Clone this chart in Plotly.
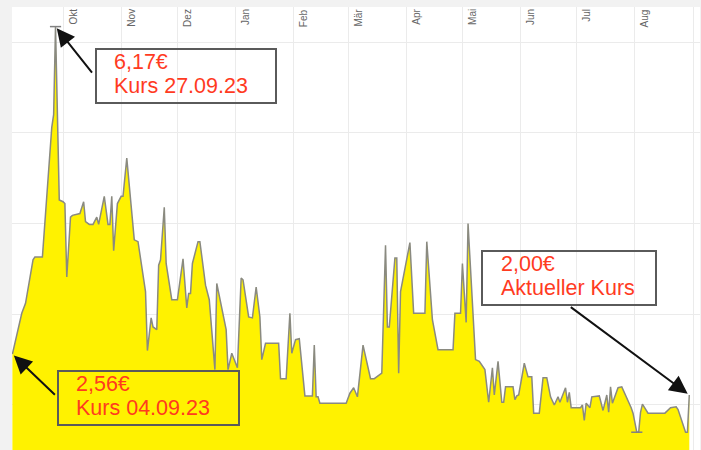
import plotly.graph_objects as go
import numpy as np

# ---- data ----
dates = [
    "2023-09-04", "2023-09-09", "2023-09-11", "2023-09-15", "2023-09-16", "2023-09-20",
    "2023-09-25", "2023-09-26", "2023-09-27", "2023-09-29", "2023-10-01", "2023-10-02",
    "2023-10-03", "2023-10-05", "2023-10-06", "2023-10-10", "2023-10-12", "2023-10-13",
    "2023-10-15", "2023-10-17", "2023-10-19", "2023-10-20", "2023-10-23", "2023-10-25",
    "2023-10-26", "2023-10-27", "2023-10-28", "2023-10-30", "2023-11-01", "2023-11-02",
    "2023-11-04", "2023-11-06", "2023-11-08", "2023-11-10", "2023-11-14", "2023-11-15",
    "2023-11-17", "2023-11-18", "2023-11-20", "2023-11-21", "2023-11-22", "2023-11-24",
    "2023-11-25", "2023-11-28", "2023-12-01", "2023-12-04", "2023-12-06", "2023-12-07",
    "2023-12-08", "2023-12-09", "2023-12-12", "2023-12-13", "2023-12-16", "2023-12-18",
    "2023-12-21", "2023-12-22", "2023-12-27", "2023-12-28", "2023-12-30", "2024-01-02",
    "2024-01-04", "2024-01-05", "2024-01-08", "2024-01-10", "2024-01-12", "2024-01-14",
    "2024-01-15", "2024-01-17", "2024-01-24", "2024-01-25", "2024-01-28", "2024-01-30",
    "2024-01-31", "2024-02-02", "2024-02-04", "2024-02-07", "2024-02-11", "2024-02-12",
    "2024-02-13", "2024-02-14", "2024-02-15", "2024-02-29", "2024-03-02", "2024-03-04",
    "2024-03-06", "2024-03-09", "2024-03-13", "2024-03-15", "2024-03-19", "2024-03-21",
    "2024-03-22", "2024-03-23", "2024-03-26", "2024-03-27", "2024-03-28", "2024-03-29",
    "2024-04-03", "2024-04-05", "2024-04-11", "2024-04-12", "2024-04-15", "2024-04-18",
    "2024-04-26", "2024-04-27", "2024-04-30", "2024-05-01", "2024-05-03", "2024-05-04",
    "2024-05-08", "2024-05-10", "2024-05-13", "2024-05-15", "2024-05-17", "2024-05-18",
    "2024-05-20", "2024-05-22", "2024-05-23", "2024-05-24", "2024-05-28", "2024-05-29",
    "2024-05-30", "2024-05-31", "2024-06-03", "2024-06-05", "2024-06-07", "2024-06-08",
    "2024-06-11", "2024-06-13", "2024-06-15", "2024-06-17", "2024-06-19", "2024-06-21",
    "2024-06-22", "2024-06-25", "2024-06-26", "2024-06-27", "2024-06-28", "2024-07-03",
    "2024-07-04", "2024-07-05", "2024-07-06", "2024-07-08", "2024-07-09", "2024-07-13",
    "2024-07-15", "2024-07-17", "2024-07-18", "2024-07-19", "2024-07-20", "2024-07-23",
    "2024-07-25", "2024-07-30", "2024-07-31", "2024-08-02", "2024-08-03", "2024-08-04",
    "2024-08-05", "2024-08-08", "2024-08-17", "2024-08-20", "2024-08-23", "2024-08-24",
    "2024-08-26", "2024-08-28", "2024-08-29", "2024-08-30",
]
prices = [
    2.56, 3.01, 3.12, 3.60, 3.63, 3.63,
    5.06, 5.20, 6.17, 4.26, 4.24, 4.22,
    3.41, 4.07, 4.09, 4.11, 4.24, 4.02,
    3.99, 3.99, 4.07, 3.99, 4.30, 3.99,
    3.99, 4.30, 3.70, 4.22, 4.30, 4.30,
    4.72, 4.29, 3.82, 3.80, 3.25, 2.60,
    2.96, 2.86, 2.83, 3.54, 3.60, 4.18,
    3.56, 3.16, 3.16, 3.61, 3.07, 3.23,
    3.23, 3.56, 3.80, 3.80, 3.32, 3.16,
    2.39, 3.34, 2.83, 2.39, 2.57, 2.41,
    3.40, 3.38, 2.97, 2.96, 3.30, 2.97,
    2.50, 2.68, 2.68, 2.29, 2.29, 3.01,
    2.57, 2.72, 2.73, 2.10, 2.10, 2.66,
    2.09, 2.09, 2.02, 2.02, 2.13, 2.19,
    2.09, 2.66, 2.29, 2.29, 2.35, 3.76,
    2.86, 2.86, 3.62, 3.62, 2.35, 3.25,
    3.79, 3.01, 3.01, 3.80, 2.94, 2.61,
    2.61, 3.01, 3.01, 3.56, 2.91, 4.00,
    2.50, 2.48, 2.39, 2.03, 2.41, 2.11,
    2.48, 2.03, 2.03, 2.20, 2.20, 2.06,
    2.10, 2.11, 2.46, 2.31, 2.31, 1.91,
    1.91, 2.30, 2.30, 2.09, 2.00, 2.09,
    2.03, 2.19, 2.03, 2.14, 1.97, 1.97,
    2.00, 1.83, 2.02, 1.97, 2.09, 2.10,
    1.94, 2.11, 1.92, 2.20, 2.02, 2.19,
    2.20, 1.97, 1.91, 1.70, 1.70, 1.92,
    2.01, 1.91, 1.91, 1.97, 1.98, 1.95,
    1.83, 1.70, 1.70, 2.11,
]

month_ticks = ["2023-10-01", "2023-11-01", "2023-12-01", "2024-01-01", "2024-02-01",
               "2024-03-01", "2024-04-01", "2024-05-01", "2024-06-01", "2024-07-01",
               "2024-08-01", "2024-09-01"]
month_labels = ["Okt", "Nov", "Dez", "Jan", "Feb", "Mär", "Apr", "Mai", "Jun", "Jul", "Aug", ""]

start_lines = ["2,56€", "Kurs 04.09.23"]
peak_lines = ["6,17€", "Kurs 27.09.23"]
current_lines = ["2,00€", "Aktueller Kurs"]

# ---- figure ----
W, H = 701, 450
ML, MR, MT, MB = 12, 1, 7, 0
PW, PH = W - ML - MR, H - MT - MB


def px_x(p):
    return (p - ML) / PW


def px_y(p):
    return 1 - (p - MT) / PH


fig = go.Figure()
fig.add_trace(go.Scatter(
    x=dates, y=prices, mode="lines", fill="tozeroy",
    fillcolor="#fff200", line=dict(color="#8a8a80", width=1.5),
    hoverinfo="skip", showlegend=False,
))

i_max = int(np.argmax(prices))
i_min = int(np.argmin(prices))
fig.add_trace(go.Scatter(
    x=[dates[i_max], dates[i_min]], y=[prices[i_max], prices[i_min]],
    mode="markers",
    marker=dict(symbol="line-ew-open", size=8, color="#808080",
                line=dict(color="#808080", width=1.5)),
    hoverinfo="skip", showlegend=False,
))

annotations = []
# month labels
for d, lab in zip(month_ticks, month_labels):
    if not lab:
        continue
    annotations.append(dict(
        x=d, xref="x", y=1, yref="paper", text=lab, showarrow=False,
        textangle=-90, xanchor="left", yanchor="top", xshift=2,
        font=dict(family="Liberation Sans, Arial", size=10, color="#666666"),
    ))

red = "#ff3b1f"
box_font = dict(family="Liberation Sans, Arial", size=21.5, color=red)
shapes = []


def box(lines, left, top, right, text_left):
    shapes.append(dict(
        type="rect", xref="paper", yref="paper",
        x0=px_x(left + 1), x1=px_x(right - 1), y0=px_y(top + 1), y1=px_y(top + 55),
        line=dict(color="#5a5a5a", width=2), fillcolor="rgba(0,0,0,0)", layer="above",
    ))
    for k, line in enumerate(lines):
        annotations.append(dict(
            x=px_x(text_left), y=px_y(top + 1 + 24 * k), xref="paper", yref="paper",
            xanchor="left", yanchor="top", text=line, showarrow=False,
            borderpad=0, font=box_font,
        ))


box(peak_lines, 95, 48, 277, 113)
box(start_lines, 57, 370, 240, 75)
box(current_lines, 481, 250, 657, 500)


def arrow(i, ax, ay):
    return dict(
        x=dates[i], y=prices[i], xref="x", yref="y", text=" ",
        showarrow=True, ax=ax, ay=ay, axref="pixel", ayref="pixel",
        arrowhead=2, arrowsize=1.8, arrowwidth=2, arrowcolor="#111111",
        standoff=2, font=dict(size=1),
    )


annotations.append(arrow(i_max, 38, 48))
annotations.append(arrow(0, 44, 42))
annotations.append(arrow(len(dates) - 1, -120, -89))

fig.update_layout(
    width=W, height=H,
    margin=dict(l=ML, r=MR, t=MT, b=MB, pad=0, autoexpand=False),
    paper_bgcolor="#f2f2f2", plot_bgcolor="#ffffff",
    showlegend=False,
    xaxis=dict(
        type="date", range=["2023-09-03 19:00", "2024-09-04 17:00"],
        tickvals=month_ticks, showticklabels=False, ticks="",
        showgrid=True, gridcolor="#ebebeb", gridwidth=1,
        zeroline=False, showline=False, fixedrange=True,
    ),
    yaxis=dict(
        range=[1.504, 6.386], dtick=1, tick0=0, showticklabels=False, ticks="",
        showgrid=True, gridcolor="#ebebeb", gridwidth=1,
        zeroline=False, showline=False, fixedrange=True,
    ),
    annotations=annotations,
    shapes=shapes,
)

fig.write_html(
    "out.html",
    config={"displayModeBar": False, "responsive": False},
    post_script="document.body.style.margin='0';document.body.style.overflow='hidden';",
)
